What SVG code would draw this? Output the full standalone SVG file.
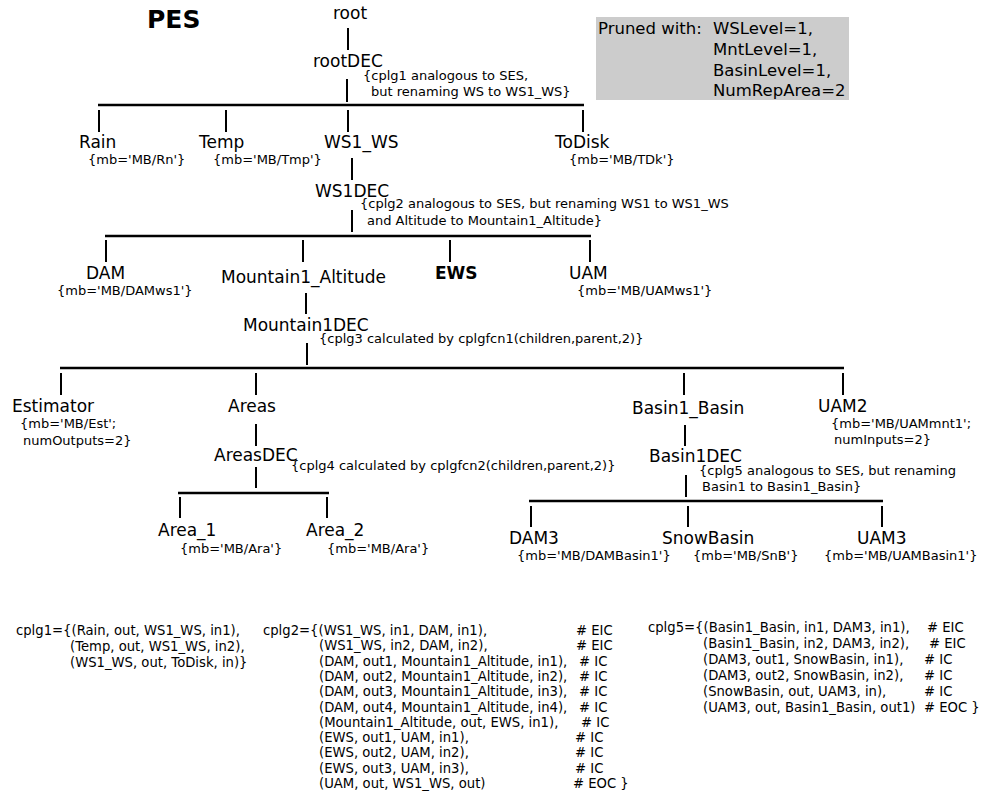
<svg xmlns="http://www.w3.org/2000/svg" width="981" height="805" viewBox="0 0 981 805">
  <style>
    text { font-family: "DejaVu Sans", "Liberation Sans", sans-serif; fill: #000; }
    .lbl { font-size: 17px; }
    .ann { font-size: 13px; }
    .code { font-size: 13.2px; }
    .title { font-size: 25px; font-weight: bold; }
    .bold { font-weight: bold; }
    .note { font-size: 16.5px; }
    .edge { stroke: #000; stroke-width: 2; fill: none; }
    .bar { stroke-width: 2.5; }
  </style>

  <rect width="981" height="805" fill="#ffffff"/>

  <!-- heading -->
  <text class="title" x="147" y="28">PES</text>

  <!-- pruning parameters -->
  <g id="pruned">
    <rect x="596" y="17" width="253" height="83" fill="#cccccc"/>
    <text class="note" x="598" y="34">Pruned with:</text>
    <text class="note" x="713" y="34">WSLevel=1,</text>
    <text class="note" x="713" y="55">MntLevel=1,</text>
    <text class="note" x="713" y="76">BasinLevel=1,</text>
    <text class="note" x="713" y="96">NumRepArea=2</text>
  </g>

  <!-- tree connectors -->
  <g id="connectors" class="edge">
    <line x1="348" y1="28" x2="348" y2="50"/>
    <line x1="347" y1="79" x2="347" y2="102"/>
    <line class="bar" x1="98" y1="105" x2="584" y2="105"/>
    <line x1="99" y1="110" x2="99" y2="132"/>
    <line x1="226" y1="110" x2="226" y2="132"/>
    <line x1="348" y1="110" x2="348" y2="132"/>
    <line x1="583" y1="110" x2="583" y2="132"/>

    <line x1="352" y1="158" x2="352" y2="180"/>
    <line x1="352" y1="210" x2="352" y2="232"/>
    <line class="bar" x1="105" y1="236" x2="591" y2="236"/>
    <line x1="106" y1="240" x2="106" y2="262"/>
    <line x1="303" y1="240" x2="303" y2="262"/>
    <line x1="450" y1="240" x2="450" y2="262"/>
    <line x1="590" y1="240" x2="590" y2="262"/>

    <line x1="306" y1="293" x2="306" y2="314"/>
    <line x1="307" y1="343" x2="307" y2="365"/>
    <line class="bar" x1="60" y1="368" x2="844" y2="368"/>
    <line x1="61" y1="373" x2="61" y2="395"/>
    <line x1="256" y1="373" x2="256" y2="395"/>
    <line x1="684" y1="373" x2="684" y2="395"/>
    <line x1="843" y1="373" x2="843" y2="395"/>

    <line x1="256" y1="424" x2="256" y2="446"/>
    <line x1="256" y1="467" x2="256" y2="488"/>
    <line class="bar" x1="178" y1="493" x2="329" y2="493"/>
    <line x1="180" y1="497" x2="180" y2="518"/>
    <line x1="327" y1="497" x2="327" y2="518"/>

    <line x1="685" y1="425" x2="685" y2="446"/>
    <line x1="686" y1="475" x2="686" y2="497"/>
    <line class="bar" x1="529" y1="501" x2="883" y2="501"/>
    <line x1="531" y1="506" x2="531" y2="527"/>
    <line x1="688" y1="506" x2="688" y2="527"/>
    <line x1="882" y1="506" x2="882" y2="527"/>
  </g>

  <!-- nodes -->
  <g id="root"><text class="lbl" x="333" y="19">root</text></g>
  <g id="rootDEC">
    <text class="lbl" x="313" y="67">rootDEC</text>
    <text class="ann" x="363" y="80">{cplg1 analogous to SES,</text>
    <text class="ann" x="371" y="96">but renaming WS to WS1_WS}</text>
  </g>
  <g id="Rain">
    <text class="lbl" x="79" y="148">Rain</text>
    <text class="ann" x="88" y="164">{mb='MB/Rn'}</text>
  </g>
  <g id="Temp">
    <text class="lbl" x="199" y="148">Temp</text>
    <text class="ann" x="213" y="164">{mb='MB/Tmp'}</text>
  </g>
  <g id="WS1_WS"><text class="lbl" x="324" y="148">WS1_WS</text></g>
  <g id="ToDisk">
    <text class="lbl" x="555" y="148">ToDisk</text>
    <text class="ann" x="569" y="164">{mb='MB/TDk'}</text>
  </g>

  <g id="WS1DEC">
    <text class="lbl" x="315" y="197">WS1DEC</text>
    <text class="ann" x="360" y="208">{cplg2 analogous to SES, but renaming WS1 to WS1_WS</text>
    <text class="ann" x="367" y="225">and Altitude to Mountain1_Altitude}</text>
  </g>
  <g id="DAM">
    <text class="lbl" x="86" y="279">DAM</text>
    <text class="ann" x="57" y="295">{mb='MB/DAMws1'}</text>
  </g>
  <g id="Mountain1_Altitude"><text class="lbl" x="221" y="283">Mountain1_Altitude</text></g>
  <g id="EWS"><text class="lbl bold" x="435" y="279">EWS</text></g>
  <g id="UAM">
    <text class="lbl" x="569" y="279">UAM</text>
    <text class="ann" x="577" y="295">{mb='MB/UAMws1'}</text>
  </g>

  <g id="Mountain1DEC">
    <text class="lbl" x="243" y="331">Mountain1DEC</text>
    <text class="ann" x="319" y="343">{cplg3 calculated by cplgfcn1(children,parent,2)}</text>
  </g>
  <g id="Estimator">
    <text class="lbl" x="12" y="412">Estimator</text>
    <text class="ann" x="20" y="428">{mb='MB/Est';</text>
    <text class="ann" x="23" y="445">numOutputs=2}</text>
  </g>
  <g id="Areas"><text class="lbl" x="228" y="412">Areas</text></g>
  <g id="Basin1_Basin"><text class="lbl" x="632" y="414">Basin1_Basin</text></g>
  <g id="UAM2">
    <text class="lbl" x="818" y="412">UAM2</text>
    <text class="ann" x="831" y="428">{mb='MB/UAMmnt1';</text>
    <text class="ann" x="834" y="444">numInputs=2}</text>
  </g>

  <g id="AreasDEC">
    <text class="lbl" x="214" y="461">AreasDEC</text>
    <text class="ann" x="291" y="470">{cplg4 calculated by cplgfcn2(children,parent,2)}</text>
  </g>
  <g id="Area_1">
    <text class="lbl" x="158" y="536">Area_1</text>
    <text class="ann" x="180" y="553">{mb='MB/Ara'}</text>
  </g>
  <g id="Area_2">
    <text class="lbl" x="306" y="536">Area_2</text>
    <text class="ann" x="327" y="553">{mb='MB/Ara'}</text>
  </g>

  <g id="Basin1DEC">
    <text class="lbl" x="649" y="462">Basin1DEC</text>
    <text class="ann" x="699" y="475">{cplg5 analogous to SES, but renaming</text>
    <text class="ann" x="702" y="491">Basin1 to Basin1_Basin}</text>
  </g>
  <g id="DAM3">
    <text class="lbl" x="509" y="544">DAM3</text>
    <text class="ann" x="517" y="560">{mb='MB/DAMBasin1'}</text>
  </g>
  <g id="SnowBasin">
    <text class="lbl" x="662" y="544">SnowBasin</text>
    <text class="ann" x="693" y="560">{mb='MB/SnB'}</text>
  </g>
  <g id="UAM3">
    <text class="lbl" x="857" y="544">UAM3</text>
    <text class="ann" x="824" y="560">{mb='MB/UAMBasin1'}</text>
  </g>

  <!-- coupling listings -->
  <g id="cplg1-list">
    <text class="code" x="16" y="635">cplg1={(Rain, out, WS1_WS, in1),</text>
    <text class="code" x="70" y="651">(Temp, out, WS1_WS, in2),</text>
    <text class="code" x="70" y="667">(WS1_WS, out, ToDisk, in)}</text>
  </g>

  <g id="cplg2-list">
    <text class="code" x="263" y="635">cplg2={(WS1_WS, in1, DAM, in1),</text>
    <text class="code" x="319" y="650.3">(WS1_WS, in2, DAM, in2),</text>
    <text class="code" x="319" y="665.6">(DAM, out1, Mountain1_Altitude, in1),</text>
    <text class="code" x="319" y="680.9">(DAM, out2, Mountain1_Altitude, in2),</text>
    <text class="code" x="319" y="696.2">(DAM, out3, Mountain1_Altitude, in3),</text>
    <text class="code" x="319" y="711.5">(DAM, out4, Mountain1_Altitude, in4),</text>
    <text class="code" x="319" y="726.8">(Mountain1_Altitude, out, EWS, in1),</text>
    <text class="code" x="319" y="742.1">(EWS, out1, UAM, in1),</text>
    <text class="code" x="319" y="757.4">(EWS, out2, UAM, in2),</text>
    <text class="code" x="319" y="772.7">(EWS, out3, UAM, in3),</text>
    <text class="code" x="319" y="788">(UAM, out, WS1_WS, out)</text>
    <text class="code" x="576" y="635"># EIC</text>
    <text class="code" x="576" y="650.3"># EIC</text>
    <text class="code" x="579" y="665.6"># IC</text>
    <text class="code" x="579" y="680.9"># IC</text>
    <text class="code" x="579" y="696.2"># IC</text>
    <text class="code" x="579" y="711.5"># IC</text>
    <text class="code" x="581" y="726.8"># IC</text>
    <text class="code" x="575" y="742.1"># IC</text>
    <text class="code" x="575" y="757.4"># IC</text>
    <text class="code" x="575" y="772.7"># IC</text>
    <text class="code" x="573" y="788"># EOC }</text>
  </g>

  <g id="cplg5-list">
    <text class="code" x="648" y="632">cplg5={(Basin1_Basin, in1, DAM3, in1),</text>
    <text class="code" x="703" y="648">(Basin1_Basin, in2, DAM3, in2),</text>
    <text class="code" x="703" y="664">(DAM3, out1, SnowBasin, in1),</text>
    <text class="code" x="703" y="680">(DAM3, out2, SnowBasin, in2),</text>
    <text class="code" x="703" y="696">(SnowBasin, out, UAM3, in),</text>
    <text class="code" x="703" y="712">(UAM3, out, Basin1_Basin, out1)</text>
    <text class="code" x="927" y="632"># EIC</text>
    <text class="code" x="929" y="648"># EIC</text>
    <text class="code" x="924" y="664"># IC</text>
    <text class="code" x="924" y="680"># IC</text>
    <text class="code" x="924" y="696"># IC</text>
    <text class="code" x="924" y="712"># EOC }</text>
  </g>
</svg>
